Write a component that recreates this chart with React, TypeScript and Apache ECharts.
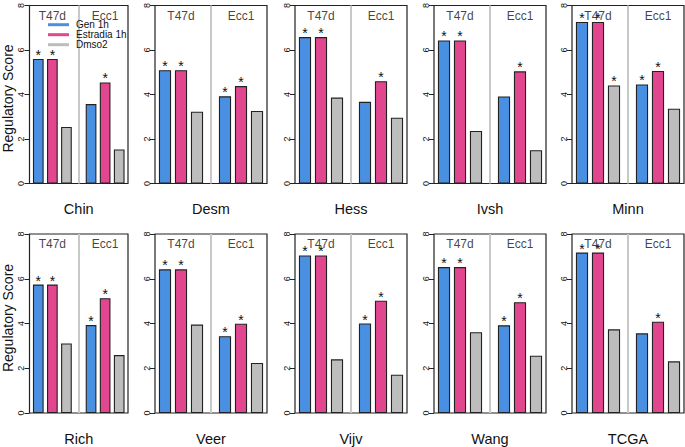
import React, { useEffect, useRef } from "react";
import * as echarts from "echarts";

const panelNames = ["Chin", "Desm", "Hess", "Ivsh", "Minn", "Rich", "Veer", "Vijv", "Wang", "TCGA"];
const cellLines = ["T47d", "Ecc1"];
const treatments = ["Gen 1h", "Estradia 1h", "Dmso2"];
// values per panel: [T47d, Ecc1]
const gen1h = [[5.6, 3.57], [5.09, 3.92], [6.58, 3.67], [6.43, 3.91], [7.26, 4.45], [5.74, 3.93], [6.42, 3.43], [7.04, 4.0], [6.52, 3.92], [7.17, 3.56]];
const estradia1h = [[5.6, 4.54], [5.09, 4.38], [6.58, 4.6], [6.43, 5.04], [7.26, 5.06], [5.74, 5.13], [6.42, 3.99], [7.04, 5.02], [6.52, 4.95], [7.17, 4.08]];
const dmso2 = [[2.54, 1.53], [3.23, 3.26], [3.86, 2.96], [2.36, 1.5], [4.41, 3.36], [3.11, 2.59], [3.95, 2.24], [2.4, 1.71], [3.61, 2.56], [3.74, 2.31]];
// significance stars per panel: [T47d, Ecc1]
const gen1hSig = [[1, 0], [1, 1], [1, 0], [1, 0], [1, 1], [1, 1], [1, 1], [1, 1], [1, 1], [1, 0]];
const estradia1hSig = [[1, 1], [1, 1], [1, 1], [1, 1], [1, 1], [1, 1], [1, 1], [1, 1], [1, 1], [1, 1]];
const dmso2Sig = [[0, 0], [0, 0], [0, 0], [0, 0], [1, 0], [0, 0], [0, 0], [0, 0], [0, 0], [0, 0]];
const yMin = 0;
const yMax = 8;
const yInterval = 2;
const yAxisTitle = "Regulatory Score";

const COLORS = ["#4a90e2", "#e2468f", "#bdbdbd"];
const FONT = "Liberation Sans, Arial, Helvetica, sans-serif";
const TEXT = "#111";

// layout
const COL_LEFT = [29.5, 155, 295, 434, 572];
const COL_WIDTH = [98.5, 112, 112, 112, 112];
const ROW_TOP = [2.5, 234];
const ROW_HEIGHT = 181;
const BAR_PITCH_UNITS = 1;
const GROUP_START = [0.625, 4.375];
const SEP_X = 3.5;
const X_MAX = 7;

export default function App() {
  const ref = useRef<HTMLDivElement>(null);
  useEffect(() => {
    if (!ref.current) return;
    const chart = echarts.init(ref.current, null, { renderer: "svg" });
    const grids: any[] = [];
    const xAxes: any[] = [];
    const yAxes: any[] = [];
    const series: any[] = [];
    const valueSets = [gen1h, estradia1h, dmso2];
    const sigSets = [gen1hSig, estradia1hSig, dmso2Sig];

    panelNames.forEach((name, i) => {
      const row = Math.floor(i / 5);
      const col = i % 5;
      grids.push({
        left: COL_LEFT[col],
        top: ROW_TOP[row],
        width: COL_WIDTH[col],
        height: ROW_HEIGHT,
        show: true,
        borderColor: "#222",
        borderWidth: 1.2,
        backgroundColor: "transparent",
      });
      xAxes.push({
        gridIndex: i,
        type: "value",
        min: 0,
        max: X_MAX,
        axisLine: { show: false },
        axisTick: { show: false },
        axisLabel: { show: false },
        splitLine: { show: false },
        name,
        nameLocation: "middle",
        nameGap: 18,
        nameTextStyle: { fontSize: 14.5, color: TEXT, fontFamily: FONT },
      });
      yAxes.push({
        gridIndex: i,
        type: "value",
        min: yMin,
        max: yMax,
        interval: yInterval,
        axisLine: { show: false },
        axisTick: { show: true, length: 5, lineStyle: { color: "#222", width: 1 } },
        axisLabel: { rotate: 90, fontSize: 9, margin: 4, color: TEXT, fontFamily: FONT },
        splitLine: { show: false },
      });
      const barWidth = COL_WIDTH[col] * 0.76 / X_MAX;
      const data: any[] = [];
      cellLines.forEach((cl, g) => {
        treatments.forEach((t, s) => {
          const v = valueSets[s][i][g];
          data.push({
            name: `${cl} ${t}`,
            value: [GROUP_START[g] + s * BAR_PITCH_UNITS, v],
            itemStyle: { color: COLORS[s] },
            label: { show: !!sigSets[s][i][g] },
          });
        });
      });
      series.push({
        type: "bar",
        xAxisIndex: i,
        yAxisIndex: i,
        barWidth,
        data,
        itemStyle: { borderColor: "#222", borderWidth: 1.1 },
        label: {
          position: "top",
          distance: -3,
          formatter: "*",
          fontSize: 14,
          color: TEXT,
          fontFamily: FONT,
        },
        markLine: {
          silent: true,
          symbol: ["none", "none"],
          label: { show: false },
          lineStyle: { color: "#c8c8c8", width: 2, type: "solid" },
          data: [{ xAxis: SEP_X }],
        },
        z: 3,
      });
      series.push({
        type: "scatter",
        xAxisIndex: i,
        yAxisIndex: i,
        symbolSize: 0,
        silent: true,
        data: cellLines.map((cl, g) => ({
          name: cl,
          value: [GROUP_START[g] + BAR_PITCH_UNITS, 7.54],
        })),
        label: {
          show: true,
          position: "inside",
          formatter: "{b}",
          fontSize: 12,
          color: TEXT,
          fontFamily: FONT,
        },
        z: 4,
      });
    });

    const graphic: any[] = [];
    [98.5, 318].forEach((cy) => {
      graphic.push({
        type: "text",
        x: 8,
        y: cy,
        rotation: Math.PI / 2,
        style: {
          text: yAxisTitle,
          fontSize: 14,
          fill: TEXT,
          fontFamily: FONT,
          textAlign: "center",
          textVerticalAlign: "middle",
        },
      });
    });
    treatments.forEach((t, s) => {
      const y = 24.7 + s * 10;
      graphic.push({
        type: "line",
        shape: { x1: 48, y1: y, x2: 69, y2: y },
        style: { stroke: COLORS[s], lineWidth: 3 },
        z: 10,
      });
      graphic.push({
        type: "text",
        x: 76,
        y,
        style: {
          text: t,
          fontSize: 10,
          fill: TEXT,
          fontFamily: FONT,
          textAlign: "left",
          textVerticalAlign: "middle",
        },
        z: 10,
      });
    });

    chart.setOption({
      animation: false,
      backgroundColor: "#ffffff",
      grid: grids,
      xAxis: xAxes,
      yAxis: yAxes,
      series,
      graphic,
    });
    return () => chart.dispose();
  }, []);
  return (
    <div
      ref={ref}
      style={{ position: "fixed", left: 0, top: 0, width: 685, height: 447, background: "#fff" }}
    />
  );
}
